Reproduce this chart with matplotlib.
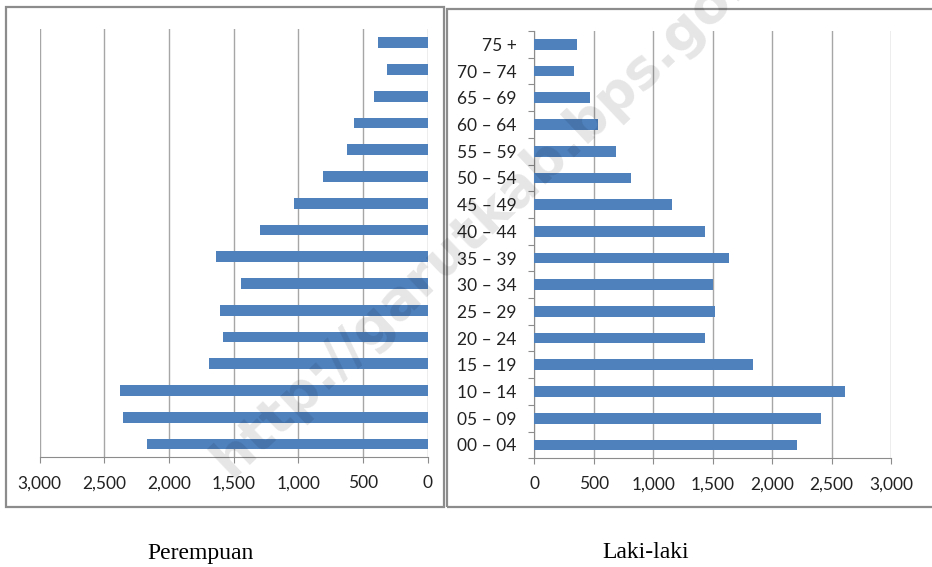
import matplotlib
matplotlib.use("Agg")
import matplotlib.pyplot as plt
from matplotlib.patches import Rectangle
import numpy as np

age_groups = ["00 – 04", "05 – 09", "10 – 14", "15 – 19", "20 – 24", "25 – 29",
              "30 – 34", "35 – 39", "40 – 44", "45 – 49", "50 – 54", "55 – 59",
              "60 – 64", "65 – 69", "70 – 74", "75 +"]
perempuan = [2173, 2354, 2382, 1694, 1586, 1606, 1444, 1635, 1299, 1034, 812, 624,
             568, 415, 317, 382]
laki_laki = [2209, 2414, 2616, 1837, 1433, 1520, 1500, 1635, 1433, 1155, 811, 687,
             538, 468, 336, 362]
x_ticks = [0, 500, 1000, 1500, 2000, 2500, 3000]
x_tick_labels = ["0", "500", "1,000", "1,500", "2,000", "2,500", "3,000"]
panel_titles = ["Perempuan", "Laki-laki"]
watermark = "http://garutkab.bps.go.id"

W, H = 932, 567
fig = plt.figure(figsize=(W / 100, H / 100), dpi=100)
fig.patch.set_facecolor("white")

def px_axes(x0, y0, x1, y1):
    return fig.add_axes([x0 / W, 1 - y1 / H, (x1 - x0) / W, (y1 - y0) / H])

bar_color = "#4F81BD"
grid_color = "#a6a6a6"
axis_color = "#8c8c8c"
tick_font = dict(family=["Lato", "DejaVu Sans"], size=12.5)

# panel boxes
for (x0, y0, x1, y1) in [(5.7, 7.3, 444.3, 507.3), (446.7, 9.3, 940, 507.3)]:
    fig.patches.append(Rectangle((x0 / W, 1 - y1 / H), (x1 - x0) / W, (y1 - y0) / H,
                                 transform=fig.transFigure, fill=False,
                                 edgecolor=axis_color, linewidth=1.6, zorder=0))

y = np.arange(len(age_groups))

# left panel (Perempuan)
axL = px_axes(39.7, 29.3, 427.7, 457.3)
axL.barh(y, perempuan, height=0.4, color=bar_color, zorder=3)
axL.set_xlim(3000, 0)
axL.set_ylim(-0.5, len(age_groups) - 0.5)
axL.set_xticks(x_ticks)
axL.set_xticklabels(x_tick_labels, **tick_font, color="#222222")
axL.set_yticks([])
for s in ["top", "left", "right"]:
    axL.spines[s].set_visible(False)
axL.spines["bottom"].set_color(axis_color)
axL.tick_params(axis="x", length=4, width=0.8, color=axis_color, pad=9)
axL.xaxis.grid(True, color=grid_color, linewidth=1.0, zorder=0)
axL.set_axisbelow(True)

# right panel (Laki-laki)
axR = px_axes(534.3, 31, 891, 458.3)
axR.barh(y, laki_laki, height=0.4, color=bar_color, zorder=3)
axR.set_xlim(0, 3000)
axR.set_ylim(-0.5, len(age_groups) - 0.5)
axR.set_xticks(x_ticks)
axR.set_xticklabels(x_tick_labels, **tick_font, color="#222222")
axR.set_yticks(y)
axR.set_yticklabels(age_groups, **tick_font, color="#222222")
axR.set_yticks(np.arange(len(age_groups) + 1) - 0.5, minor=True)
axR.tick_params(axis="y", which="major", length=0, pad=12.7)
axR.tick_params(axis="y", which="minor", length=4, width=0.8, color=axis_color)
axR.tick_params(axis="x", length=4, width=0.8, color=axis_color, pad=9)
for s in ["top", "right"]:
    axR.spines[s].set_visible(False)
axR.spines["bottom"].set_color(axis_color)
axR.spines["left"].set_color(axis_color)
axR.xaxis.grid(True, color=grid_color, linewidth=1.0, zorder=0)
axR.set_axisbelow(True)

# panel titles
fig.text(200 / W, 1 - 553 / H, panel_titles[0], ha="center", va="center",
         family=["Liberation Serif"], size=17, color="black")
fig.text(646 / W, 1 - 553 / H, panel_titles[1], ha="center", va="center",
         family=["Liberation Serif"], size=17, color="black")

# watermark (cut off at the top edge, as in the reference)
fig.text(500 / W, 1 - 203 / H, watermark, ha="center", va="center", rotation=43.5,
         family=["DejaVu Sans"], weight="bold", size=39, color="black", alpha=0.1,
         zorder=10)

fig.savefig("out.png", dpi=100, facecolor="white")
